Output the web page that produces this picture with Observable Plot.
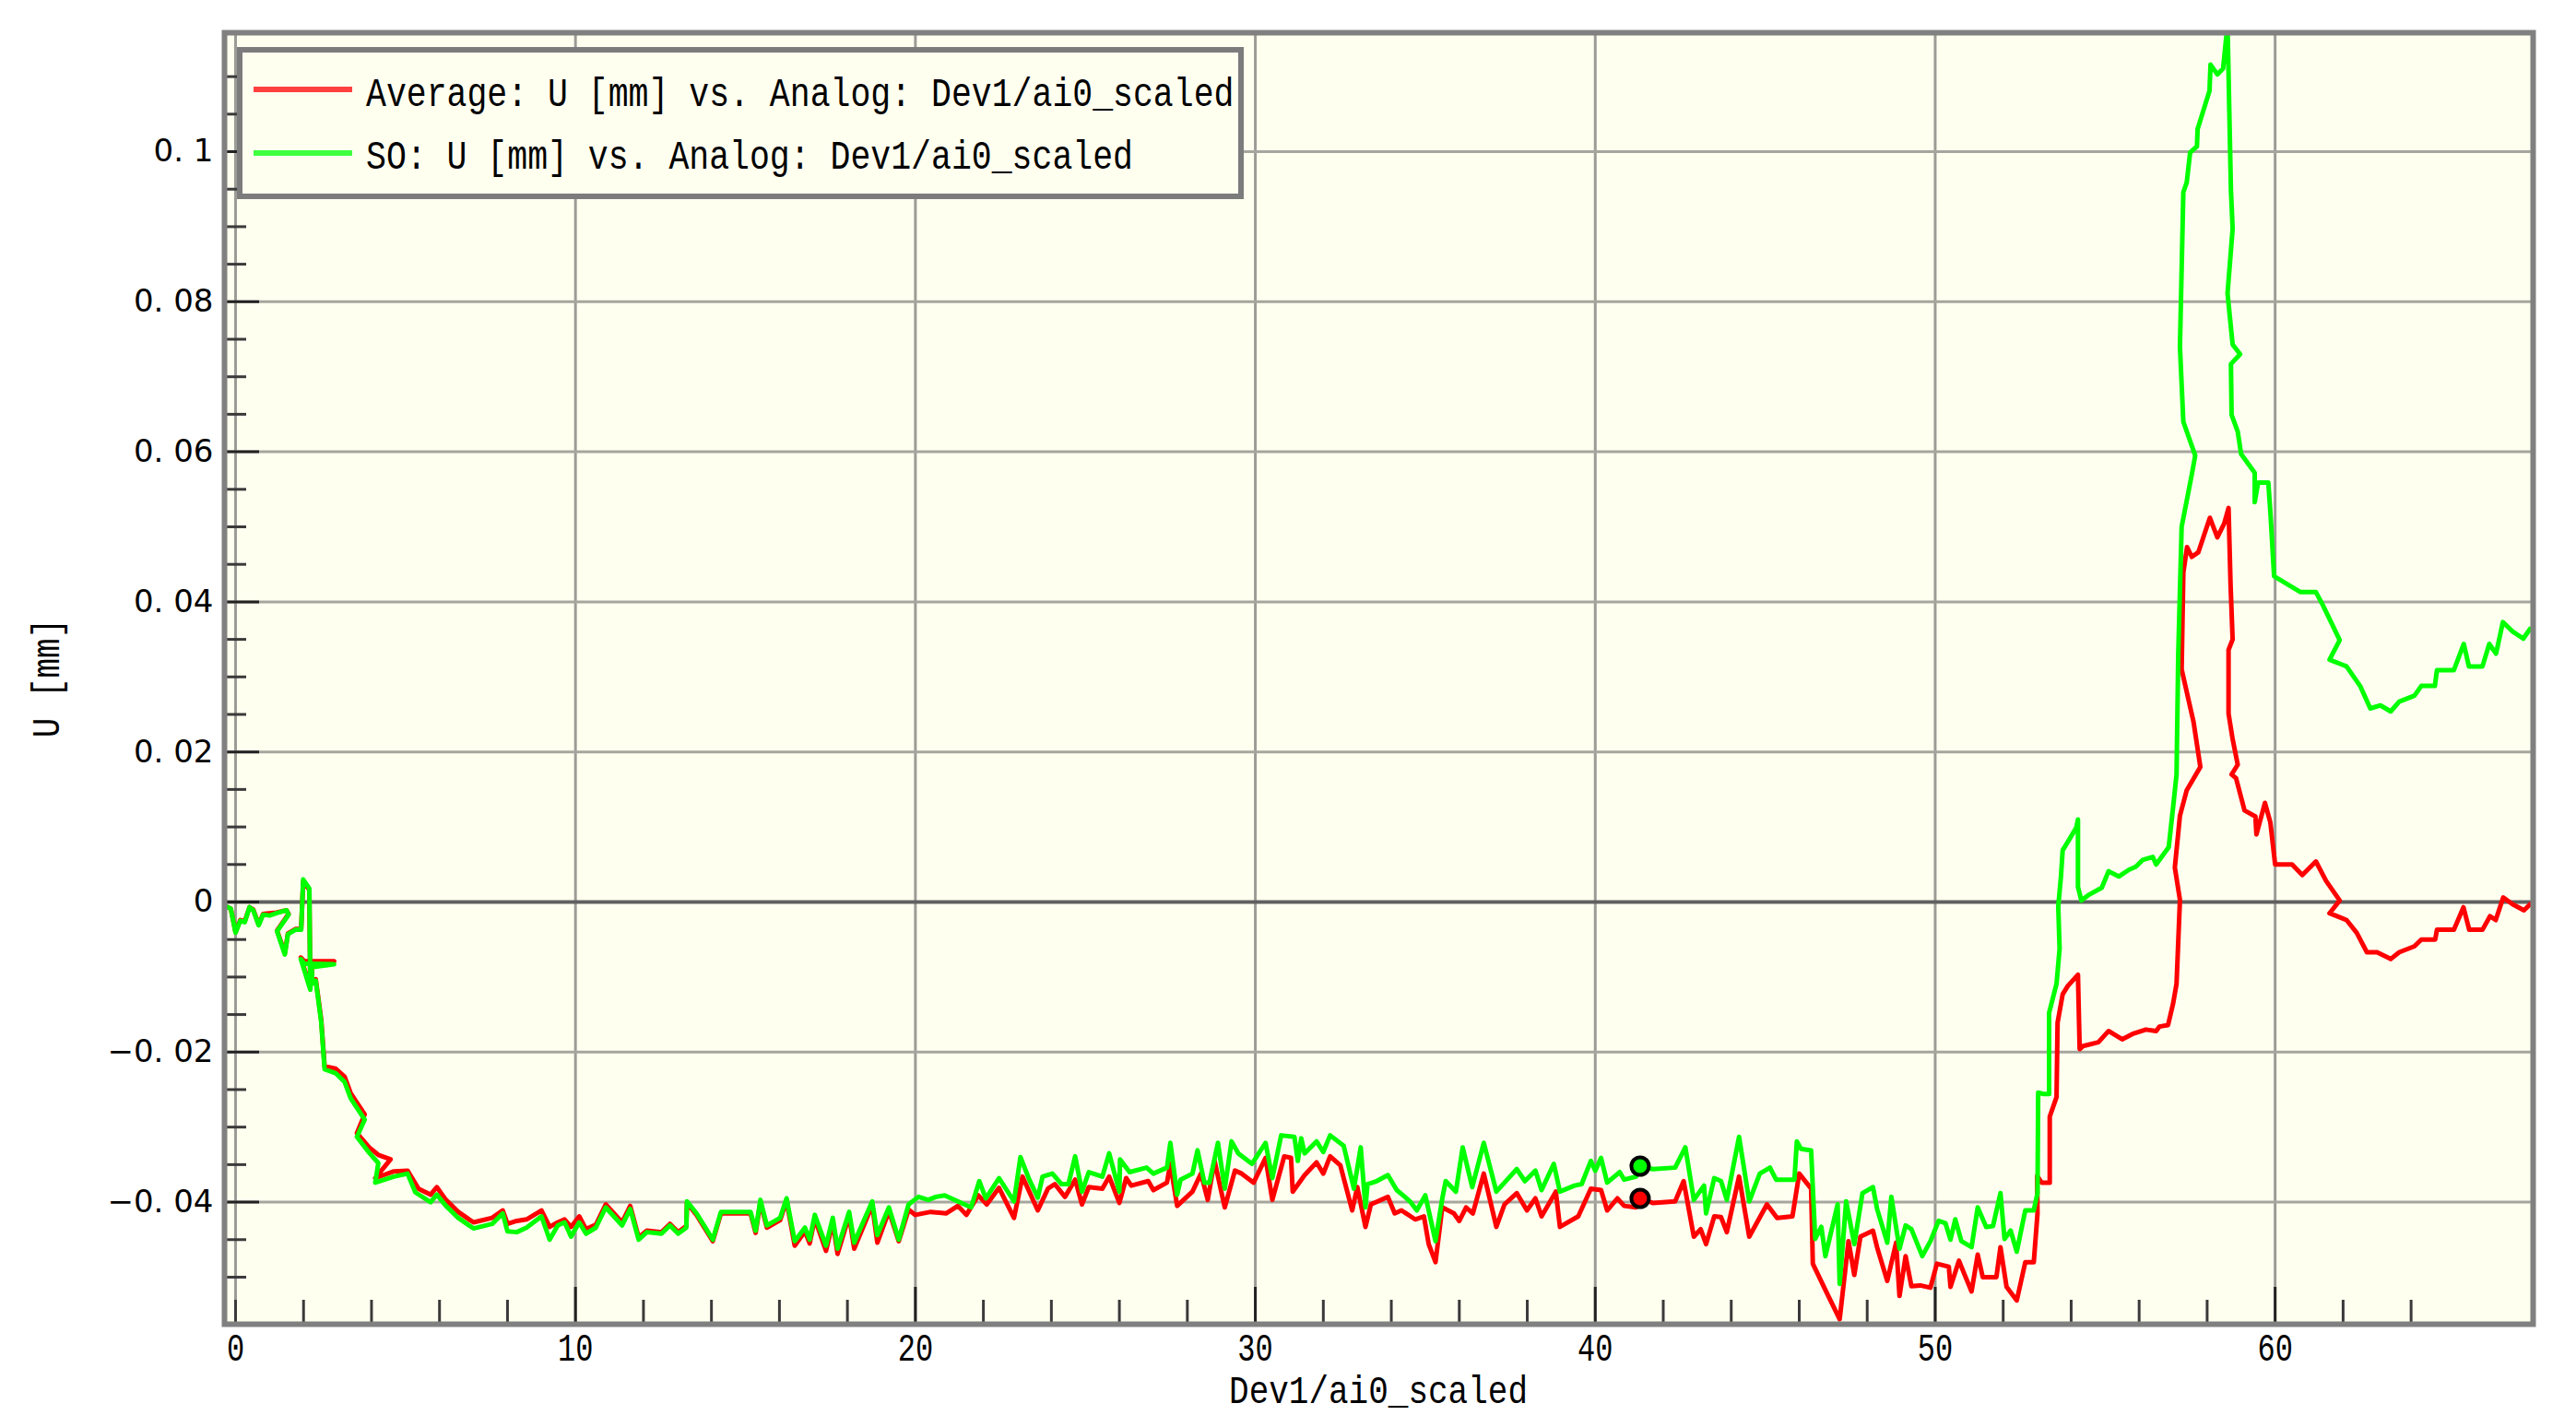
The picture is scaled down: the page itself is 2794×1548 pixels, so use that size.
<!DOCTYPE html>
<html>
<head>
<meta charset="utf-8">
<script src="https://cdn.jsdelivr.net/npm/d3@7"></script>
<script src="https://cdn.jsdelivr.net/npm/@observablehq/plot@0.6"></script>
<style>
  html, body { margin: 0; padding: 0; background: #ffffff; }
  #chart { width: 2794px; height: 1548px; }
</style>
</head>
<body>
<div id="chart"></div>
<script>
// ---------------- DATA ----------------
const averageSeries = [
[-0.32,-0.0005],[-0.14,-0.0009],[0.0,-0.0040],[0.14,-0.0024],[0.27,-0.0026],[0.41,-0.0007],[0.52,-0.0010],[0.68,-0.0030],[0.81,-0.0016],[1.0,-0.0015],
[1.2,-0.0014],[1.5,-0.0011],[1.56,-0.0016],[1.22,-0.0038],[1.45,-0.0068],[1.54,-0.0042],[1.76,-0.0036],[1.93,-0.0036],[1.99,0.0028],[2.17,0.0016],
[2.20,-0.0115],[1.92,-0.0074],[2.02,-0.0079],[2.90,-0.0079],[2.24,-0.0084],[2.26,-0.0107],[2.36,-0.0103],[2.45,-0.0133],[2.52,-0.0157],[2.62,-0.0219],
[2.94,-0.0222],[3.21,-0.0233],[3.39,-0.0255],[3.80,-0.0283],[3.57,-0.0308],[3.93,-0.0327],[4.20,-0.0337],[4.56,-0.0343],[4.11,-0.0368],[4.66,-0.0359],
[5.06,-0.0358],[5.38,-0.0382],[5.74,-0.0390],[5.92,-0.0380],[6.19,-0.0397],[6.55,-0.0413],[7.00,-0.0427],[7.55,-0.0421],[7.86,-0.0411],[8.00,-0.0429],
[8.27,-0.0425],[8.56,-0.0423],[9.00,-0.0411],[9.24,-0.0433],[9.48,-0.0427],[9.68,-0.0423],[9.87,-0.0433],[10.11,-0.0419],[10.31,-0.0436],[10.60,-0.0430],
[10.89,-0.0403],[11.37,-0.0427],[11.61,-0.0405],[11.86,-0.0447],[12.10,-0.0438],[12.53,-0.0440],[12.78,-0.0429],[13.02,-0.0440],[13.26,-0.0432],[13.28,-0.0401],
[13.56,-0.0417],[14.04,-0.0452],[14.28,-0.0415],[15.15,-0.0415],[15.30,-0.0441],[15.44,-0.0400],[15.63,-0.0434],[16.02,-0.0424],[16.21,-0.0398],[16.45,-0.0458],
[16.75,-0.0439],[16.89,-0.0455],[17.04,-0.0422],[17.37,-0.0465],[17.57,-0.0427],[17.71,-0.0469],[18.05,-0.0418],[18.20,-0.0462],[18.73,-0.0404],[18.88,-0.0454],
[19.22,-0.0412],[19.51,-0.0452],[19.80,-0.0410],[20.00,-0.0417],[20.45,-0.0413],[20.90,-0.0415],[21.25,-0.0405],[21.50,-0.0417],[21.85,-0.0391],[22.10,-0.0403],
[22.46,-0.0381],[22.90,-0.0421],[23.15,-0.0366],[23.60,-0.0411],[23.90,-0.0382],[24.10,-0.0376],[24.40,-0.0393],[24.70,-0.0370],[24.90,-0.0403],[25.10,-0.0380],
[25.50,-0.0382],[25.70,-0.0366],[26.00,-0.0401],[26.20,-0.0368],[26.35,-0.0378],[26.85,-0.0372],[27.00,-0.0384],[27.40,-0.0374],[27.50,-0.0349],[27.70,-0.0405],
[28.15,-0.0386],[28.40,-0.0362],[28.60,-0.0397],[28.80,-0.0345],[29.10,-0.0407],[29.40,-0.0358],[29.60,-0.0362],[29.95,-0.0374],[30.30,-0.0341],[30.50,-0.0397],
[30.85,-0.0339],[31.05,-0.0341],[31.10,-0.0386],[31.45,-0.0364],[31.80,-0.0347],[32.00,-0.0362],[32.20,-0.0339],[32.50,-0.0351],[32.85,-0.0411],[33.00,-0.0380],
[33.24,-0.0433],[33.40,-0.0403],[33.90,-0.0393],[34.10,-0.0415],[34.30,-0.0411],[34.70,-0.0423],[34.96,-0.0419],[35.10,-0.0456],[35.30,-0.0480],[35.50,-0.0407],
[35.84,-0.0415],[36.00,-0.0425],[36.20,-0.0407],[36.40,-0.0415],[36.72,-0.0362],[37.09,-0.0433],[37.33,-0.0403],[37.69,-0.0388],[37.99,-0.0411],[38.24,-0.0395],
[38.42,-0.0419],[38.84,-0.0386],[38.96,-0.0433],[39.50,-0.0419],[39.87,-0.0382],[40.17,-0.0384],[40.35,-0.0411],[40.65,-0.0395],[40.85,-0.0405],[41.20,-0.0407],
[41.32,-0.0395],[41.69,-0.0401],[42.35,-0.0399],[42.60,-0.0372],[42.90,-0.0446],[43.10,-0.0436],[43.26,-0.0456],[43.50,-0.0419],[43.70,-0.0420],[43.87,-0.0440],
[44.23,-0.0366],[44.53,-0.0446],[45.05,-0.0403],[45.35,-0.0421],[45.80,-0.0419],[46.00,-0.0362],[46.35,-0.0382],[46.40,-0.0482],[46.77,-0.0517],[47.19,-0.0556],
[47.45,-0.0452],[47.62,-0.0497],[47.80,-0.0446],[48.17,-0.0438],[48.29,-0.0460],[48.59,-0.0505],[48.85,-0.0454],[48.95,-0.0525],[49.13,-0.0472],[49.30,-0.0512],
[49.56,-0.0511],[49.86,-0.0514],[50.05,-0.0482],[50.40,-0.0486],[50.45,-0.0513],[50.70,-0.0478],[50.85,-0.0495],[51.07,-0.0519],[51.25,-0.0470],[51.40,-0.0500],
[51.80,-0.0500],[51.92,-0.0460],[52.10,-0.0513],[52.40,-0.0531],[52.65,-0.0480],[52.90,-0.0480],[53.01,-0.0415],[53.00,-0.0365],[53.13,-0.0374],[53.37,-0.0374],
[53.37,-0.0286],[53.57,-0.0260],[53.60,-0.0161],[53.75,-0.0123],[53.90,-0.0112],[54.20,-0.0097],[54.25,-0.0196],[54.35,-0.0192],[54.80,-0.0187],[55.10,-0.0172],
[55.50,-0.0183],[55.80,-0.0176],[56.20,-0.0170],[56.50,-0.0172],[56.60,-0.0166],[56.85,-0.0164],[57.00,-0.0135],[57.10,-0.0109],[57.20,0.0003],[57.05,0.0046],
[57.20,0.0115],[57.40,0.0149],[57.80,0.0180],[57.60,0.0240],[57.25,0.0310],[57.30,0.0439],[57.41,0.0473],[57.55,0.0460],[57.74,0.0466],[58.08,0.0512],
[58.30,0.0486],[58.50,0.0504],[58.63,0.0525],[58.69,0.0422],[58.75,0.0350],[58.63,0.0336],[58.63,0.0251],[58.75,0.0217],[58.90,0.0183],[58.72,0.0170],
[58.85,0.0165],[59.10,0.0122],[59.42,0.0114],[59.45,0.0090],[59.70,0.0132],[59.86,0.0106],[60.00,0.0050],[60.50,0.0050],[60.80,0.0036],[61.20,0.0054],
[61.50,0.0028],[61.90,0.0002],[61.60,-0.0015],[62.10,-0.0024],[62.40,-0.0041],[62.70,-0.0067],[63.00,-0.0067],[63.40,-0.0076],[63.65,-0.0067],[64.10,-0.0059],
[64.30,-0.0050],[64.71,-0.0050],[64.76,-0.0037],[65.26,-0.0037],[65.54,-0.0007],[65.71,-0.0037],[66.10,-0.0037],[66.32,-0.0019],[66.49,-0.0024],[66.71,0.0006],
[66.99,-0.0003],[67.32,-0.0011],[67.50,-0.0003]
];

const soSeries = [
[-0.32,-0.0005],[-0.14,-0.0009],[0.0,-0.0041],[0.14,-0.0025],[0.27,-0.0027],[0.41,-0.0007],[0.52,-0.0011],[0.68,-0.0031],[0.81,-0.0017],[1.0,-0.0018],
[1.2,-0.0015],[1.5,-0.0011],[1.56,-0.0017],[1.22,-0.0039],[1.45,-0.0070],[1.54,-0.0043],[1.76,-0.0037],[1.93,-0.0037],[1.99,0.0030],[2.17,0.0018],
[2.20,-0.0117],[1.92,-0.0076],[2.02,-0.0082],[2.90,-0.0083],[2.24,-0.0087],[2.26,-0.0109],[2.36,-0.0105],[2.45,-0.0136],[2.52,-0.0160],[2.62,-0.0223],
[2.94,-0.0228],[3.21,-0.0240],[3.39,-0.0262],[3.80,-0.0290],[3.57,-0.0313],[3.93,-0.0334],[4.20,-0.0348],[4.11,-0.0374],[4.66,-0.0366],[5.06,-0.0362],
[5.29,-0.0387],[5.74,-0.0400],[5.92,-0.0390],[6.19,-0.0405],[6.55,-0.0421],[7.00,-0.0435],[7.55,-0.0429],[7.86,-0.0415],[8.00,-0.0439],[8.27,-0.0440],
[8.56,-0.0434],[9.00,-0.0419],[9.24,-0.0450],[9.48,-0.0431],[9.68,-0.0427],[9.87,-0.0446],[10.11,-0.0427],[10.31,-0.0442],[10.60,-0.0434],[10.89,-0.0407],
[11.37,-0.0431],[11.61,-0.0409],[11.86,-0.0450],[12.10,-0.0440],[12.53,-0.0442],[12.78,-0.0431],[13.02,-0.0442],[13.26,-0.0434],[13.28,-0.0399],[13.56,-0.0415],
[14.04,-0.0450],[14.28,-0.0413],[15.15,-0.0413],[15.30,-0.0438],[15.44,-0.0397],[15.63,-0.0431],[16.02,-0.0421],[16.21,-0.0395],[16.45,-0.0452],[16.75,-0.0434],
[16.89,-0.0450],[17.04,-0.0417],[17.37,-0.0458],[17.57,-0.0421],[17.71,-0.0462],[18.05,-0.0413],[18.20,-0.0454],[18.73,-0.0399],[18.88,-0.0444],[19.22,-0.0407],
[19.51,-0.0450],[19.80,-0.0403],[20.09,-0.0393],[20.38,-0.0397],[20.60,-0.0393],[20.86,-0.0391],[21.25,-0.0399],[21.64,-0.0407],[21.88,-0.0372],[22.07,-0.0395],
[22.46,-0.0368],[22.90,-0.0399],[23.09,-0.0340],[23.35,-0.0370],[23.60,-0.0394],[23.74,-0.0366],[24.03,-0.0362],[24.30,-0.0376],[24.50,-0.0376],[24.70,-0.0339],
[24.90,-0.0386],[25.10,-0.0360],[25.50,-0.0366],[25.70,-0.0335],[26.00,-0.0386],[26.02,-0.0343],[26.30,-0.0360],[26.80,-0.0354],[27.00,-0.0362],[27.40,-0.0354],
[27.50,-0.0321],[27.70,-0.0390],[27.80,-0.0370],[28.15,-0.0362],[28.30,-0.0331],[28.50,-0.0374],[28.65,-0.0374],[28.90,-0.0321],[29.10,-0.0382],[29.30,-0.0319],
[29.50,-0.0335],[29.90,-0.0349],[30.30,-0.0321],[30.50,-0.0368],[30.76,-0.0311],[31.15,-0.0313],[31.25,-0.0345],[31.35,-0.0315],[31.45,-0.0335],[31.80,-0.0319],
[32.00,-0.0333],[32.20,-0.0311],[32.60,-0.0325],[32.90,-0.0382],[33.10,-0.0327],[33.24,-0.0407],[33.30,-0.0376],[33.57,-0.0372],[33.90,-0.0364],[34.16,-0.0384],
[34.40,-0.0393],[34.55,-0.0399],[34.75,-0.0411],[35.00,-0.0391],[35.30,-0.0452],[35.50,-0.0395],[35.60,-0.0372],[35.90,-0.0386],[36.10,-0.0327],[36.38,-0.0380],
[36.72,-0.0321],[37.09,-0.0386],[37.33,-0.0374],[37.69,-0.0356],[37.93,-0.0372],[38.24,-0.0358],[38.42,-0.0384],[38.78,-0.0349],[38.96,-0.0386],[39.39,-0.0378],
[39.60,-0.0376],[39.87,-0.0345],[40.00,-0.0358],[40.17,-0.0341],[40.35,-0.0374],[40.72,-0.0360],[40.85,-0.0370],[41.20,-0.0366],[41.32,-0.0352],[41.69,-0.0356],
[42.35,-0.0354],[42.65,-0.0327],[42.90,-0.0397],[43.20,-0.0378],[43.26,-0.0415],[43.50,-0.0368],[43.70,-0.0372],[43.87,-0.0397],[44.23,-0.0313],[44.53,-0.0399],
[44.84,-0.0362],[45.14,-0.0354],[45.32,-0.0370],[45.86,-0.0370],[45.93,-0.0319],[46.05,-0.0329],[46.35,-0.0331],[46.47,-0.0449],[46.65,-0.0433],[46.77,-0.0472],
[47.13,-0.0403],[47.19,-0.0509],[47.38,-0.0399],[47.62,-0.0456],[47.86,-0.0388],[48.17,-0.0380],[48.29,-0.0409],[48.59,-0.0454],[48.71,-0.0393],[48.95,-0.0462],
[49.13,-0.0431],[49.30,-0.0436],[49.62,-0.0472],[49.86,-0.0452],[50.10,-0.0425],[50.30,-0.0428],[50.45,-0.0450],[50.59,-0.0423],[50.77,-0.0452],[51.07,-0.0460],
[51.25,-0.0407],[51.50,-0.0433],[51.70,-0.0432],[51.92,-0.0388],[52.04,-0.0449],[52.22,-0.0438],[52.40,-0.0466],[52.65,-0.0411],[52.90,-0.0411],[53.01,-0.0388],
[53.03,-0.0254],[53.20,-0.0256],[53.35,-0.0256],[53.35,-0.0148],[53.57,-0.0109],[53.66,-0.0062],[53.62,-0.0006],[53.70,0.0034],[53.75,0.0069],[53.90,0.0080],
[54.15,0.0099],[54.20,0.0110],[54.20,0.0020],[54.30,0.0002],[54.50,0.0009],[54.90,0.0019],[55.10,0.0041],[55.40,0.0034],[55.70,0.0043],[55.90,0.0047],
[56.10,0.0056],[56.40,0.0060],[56.50,0.0050],[56.87,0.0073],[57.00,0.0127],[57.10,0.0170],[57.15,0.0330],[57.25,0.0500],[57.55,0.0570],[57.65,0.0595],
[57.30,0.0640],[57.20,0.0740],[57.30,0.0946],[57.40,0.0959],[57.50,0.0999],[57.70,0.1007],[57.72,0.1030],[58.07,0.1081],[58.10,0.1116],[58.30,0.1103],
[58.47,0.1111],[58.60,0.1170],[58.70,0.0949],[58.75,0.0897],[58.60,0.0811],[58.75,0.0743],[58.97,0.0730],[58.70,0.0717],[58.72,0.0649],[58.90,0.0627],
[59.00,0.0597],[59.40,0.0572],[59.40,0.0533],[59.50,0.0559],[59.80,0.0559],[59.86,0.0520],[59.97,0.0434],[60.75,0.0413],[61.20,0.0413],[61.40,0.0396],
[61.90,0.0349],[61.60,0.0323],[62.10,0.0314],[62.50,0.0288],[62.80,0.0258],[63.10,0.0262],[63.40,0.0254],[63.65,0.0267],[64.10,0.0275],[64.30,0.0288],
[64.70,0.0288],[64.76,0.0309],[65.26,0.0309],[65.55,0.0344],[65.70,0.0314],[66.10,0.0314],[66.30,0.0344],[66.50,0.0331],[66.70,0.0373],[67.00,0.0360],
[67.30,0.0351],[67.50,0.0364]
];

// cursor markers on the two curves
const markerX = [41.32, 41.32];
const markerY = [-0.0395, -0.0352];

const seriesNames = ["Average: U [mm] vs. Analog: Dev1/ai0_scaled", "SO: U [mm] vs. Analog: Dev1/ai0_scaled"];
const seriesColors = ["#ff0000", "#00ff00"];
const legendSampleColors = ["#ff4040", "#40ff40"];

const xLabelTicks = [0, 10, 20, 30, 40, 50, 60];
const xMajorTicks = [10, 20, 30, 40, 50, 60];
const xMinorTicks = [0, 2, 4, 6, 8, 12, 14, 16, 18, 22, 24, 26, 28, 32, 34, 36, 38, 42, 44, 46, 48, 52, 54, 56, 58, 62, 64];
const yGridTicks = [-0.04, -0.02, 0.02, 0.04, 0.06, 0.08, 0.1];
const yMajorTicks = [-0.04, -0.02, 0, 0.02, 0.04, 0.06, 0.08, 0.1];
const yMinorTicks = [-0.05, -0.045, -0.035, -0.03, -0.025, -0.015, -0.01, -0.005, 0.005, 0.01, 0.015, 0.025, 0.03, 0.035,
                     0.045, 0.05, 0.055, 0.065, 0.07, 0.075, 0.085, 0.09, 0.095, 0.105, 0.11];
const xTitle = "Dev1/ai0_scaled";
const yTitle = "U [mm]";

// ---------------- LAYOUT ----------------
const W = 2794, H = 1548;
const mL = 243, mR = 47, mT = 35, mB = 112;
const innerW = W - mL - mR, innerH = H - mT - mB;
const bg = "#fffff0";

const avg = averageSeries.map(([x, y]) => ({x, y}));
const so = soSeries.map(([x, y]) => ({x, y}));
const markers = markerX.map((x, i) => ({x, y: markerY[i], c: seriesColors[i]}));

function fmtY(d) {
  if (d === 0) return "0";
  const s = String(Math.abs(d)).slice(2);
  return (d < 0 ? "\u2212" : "") + "0. " + s;
}

const svgEl = Plot.plot({
  width: W, height: H,
  marginLeft: mL, marginRight: mR, marginTop: mT, marginBottom: mB,
  style: {background: "#ffffff", color: "#000000", overflow: "visible"},
  x: {domain: [-0.325, 67.59]},
  y: {domain: [-0.05627, 0.11585]},
  marks: [
    Plot.frame({fill: bg, stroke: null}),
    Plot.ruleX(xLabelTicks, {x: d => d, stroke: "#9c9c96", strokeWidth: 3}),
    Plot.ruleY(yGridTicks, {y: d => d, stroke: "#a6a69e", strokeWidth: 3}),
    Plot.ruleY([0], {y: d => d, stroke: "#606060", strokeWidth: 4}),
    Plot.tickX(xMinorTicks, {x: d => d, stroke: "#3a3a3a", strokeWidth: 3, insetTop: innerH - 26}),
    Plot.tickX(xMajorTicks, {x: d => d, stroke: "#222222", strokeWidth: 3, insetTop: innerH - 40}),
    Plot.tickY(yMinorTicks, {y: d => d, stroke: "#3a3a3a", strokeWidth: 3, insetRight: innerW - 24}),
    Plot.tickY(yMajorTicks, {y: d => d, stroke: "#222222", strokeWidth: 3, insetRight: innerW - 38}),
    Plot.line(avg, {x: "x", y: "y", stroke: seriesColors[0], strokeWidth: 5, clip: true}),
    Plot.line(so, {x: "x", y: "y", stroke: seriesColors[1], strokeWidth: 5, clip: true}),
    Plot.dot(markers, {x: "x", y: "y", r: 9.5, fill: "c", stroke: "#000000", strokeWidth: 4}),
    Plot.axisX(xLabelTicks, {tickSize: 0, tickPadding: 10, fontSize: 32, fontFamily: "Liberation Mono", label: null, tickFormat: d => String(d)}),
    Plot.axisY(yMajorTicks, {tickSize: 0, tickPadding: 12, fontSize: 34, fontFamily: "DejaVu Sans", label: null, tickFormat: fmtY}),
    Plot.frame({stroke: "#808080", strokeWidth: 6})
  ]
});

document.getElementById("chart").appendChild(svgEl);

// stretch the bitmap-like mono tick labels vertically (keeps Plot's own position)
const svg = d3.select(svgEl);
svg.selectAll('g[aria-label="x-axis tick label"] text').each(function() {
  const el = this;
  const t = el.getAttribute("transform");
  const x = el.getAttribute("x"), y = el.getAttribute("y");
  if (t) {
    el.setAttribute("transform", t + " scale(1,1.3)");
  } else {
    const px = (x && !/em$/.test(x)) ? +x : 0;
    const py = (y && !/em$/.test(y)) ? +y : 0;
    if (x && !/em$/.test(x)) el.removeAttribute("x");
    if (y && !/em$/.test(y)) el.removeAttribute("y");
    el.setAttribute("transform", `translate(${px},${py}) scale(1,1.3)`);
  }
});

// legend box inside the plot
const lg = svg.append("g").attr("class", "legend").attr("text-anchor", "start");
lg.append("rect").attr("x", 260).attr("y", 54).attr("width", 1086).attr("height", 159)
  .attr("fill", bg).attr("stroke", "#7c7c7c").attr("stroke-width", 6);
seriesNames.forEach((name, i) => {
  const ly = 97 + i * 69;
  lg.append("line").attr("x1", 275).attr("x2", 382).attr("y1", ly).attr("y2", ly)
    .attr("stroke", legendSampleColors[i]).attr("stroke-width", 6);
  lg.append("text")
    .attr("transform", `translate(397,${115 + i * 68}) scale(1,1.2)`)
    .attr("text-anchor", "start")
    .attr("font-family", "Liberation Mono").attr("font-size", 36.5).attr("fill", "#000")
    .text(name);
});

// axis titles
svg.append("text")
  .attr("transform", `translate(${mL + innerW / 2},1522) scale(1,1.18)`)
  .attr("text-anchor", "middle").attr("font-family", "Liberation Mono").attr("font-size", 36).attr("fill", "#000")
  .text(xTitle);
svg.append("text")
  .attr("transform", `translate(64,${mT + innerH / 2}) rotate(-90) scale(1,1.2)`)
  .attr("text-anchor", "middle").attr("font-family", "Liberation Mono").attr("font-size", 36).attr("fill", "#000")
  .text(yTitle);
</script>
</body>
</html>
